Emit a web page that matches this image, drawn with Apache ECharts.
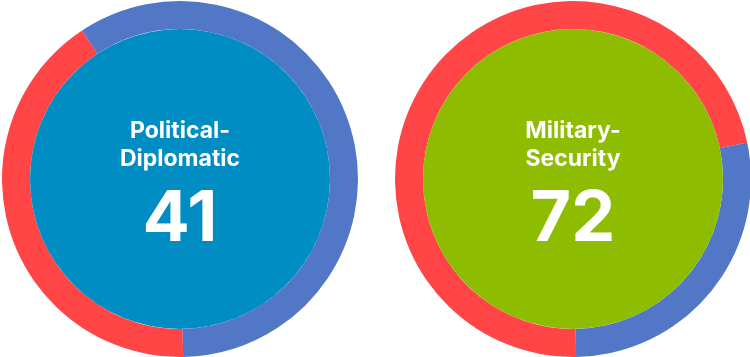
<!DOCTYPE html>
<html>
<head>
<meta charset="utf-8">
<script src="https://cdn.jsdelivr.net/npm/echarts@6/dist/echarts.min.js"></script>
<style>
  html, body { margin: 0; padding: 0; background: #ffffff; }
  #chart { width: 750px; height: 357px; }
</style>
</head>
<body>
<div id="chart"></div>
<script>
// ---- data ----
const categories = ['Political-\nDiplomatic', 'Military-\nSecurity'];
const scores = [41, 72];          // red arc share and centre number
const remainders = [59, 28];      // blue arc share

// ---- styling ----
const centers = [[180, 179], [573, 179]];
const discColors = ['#008dc3', '#8dbc00'];
const redColor = '#ff4545';
const blueColor = '#5177c6';
const fontFamily = 'Inter, "Noto Sans", sans-serif';

const series = [];
categories.forEach(function (name, i) {
  // outer ring
  series.push({
    type: 'pie',
    silent: true,
    center: centers[i],
    radius: [150, 178],
    startAngle: -89,
    clockwise: true,
    label: { show: false },
    labelLine: { show: false },
    itemStyle: { borderWidth: 0 },
    data: [
      { name: 'score', value: scores[i], itemStyle: { color: redColor } },
      { name: 'rest', value: remainders[i], itemStyle: { color: blueColor } }
    ]
  });
  // inner disc with centre label
  series.push({
    type: 'pie',
    silent: true,
    center: centers[i],
    radius: [0, 150],
    labelLine: { show: false },
    itemStyle: { color: discColors[i], borderWidth: 0 },
    label: {
      show: true,
      position: 'center',
      formatter: function (p) {
        const lines = p.name.split('\n').map(function (l) { return '{n|' + l + '}'; });
        return '{s| }\n' + lines.join('\n') + '\n{v|' + p.value + '}';
      },
      rich: {
        s: { fontSize: 10, lineHeight: 26 },
        n: { color: '#ffffff', fontFamily: fontFamily, fontWeight: 'bold', fontSize: 23, lineHeight: 28 },
        v: { color: '#ffffff', fontFamily: fontFamily, fontWeight: 'bold', fontSize: 70, lineHeight: 94 }
      }
    },
    data: [{ name: name, value: scores[i] }]
  });
});

const chart = echarts.init(document.getElementById('chart'), null, { renderer: 'canvas' });
chart.setOption({
  animation: false,
  backgroundColor: '#ffffff',
  tooltip: { show: false },
  series: series
});
</script>
</body>
</html>
